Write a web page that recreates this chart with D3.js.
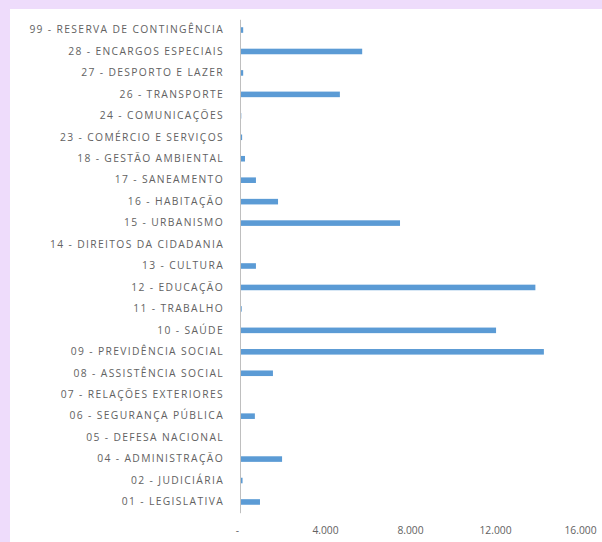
<!DOCTYPE html>
<html>
<head>
<meta charset="utf-8">
<script src="https://cdn.jsdelivr.net/npm/d3@7/dist/d3.min.js"></script>
<style>
html, body { margin: 0; padding: 0; background: #eedcfb; }
svg { display: block; }
</style>
</head>
<body>
<script>
const categories = [
  "99 - RESERVA DE CONTINGÊNCIA",
  "28 - ENCARGOS ESPECIAIS",
  "27 - DESPORTO E LAZER",
  "26 - TRANSPORTE",
  "24 - COMUNICAÇÕES",
  "23 - COMÉRCIO E SERVIÇOS",
  "18 - GESTÃO AMBIENTAL",
  "17 - SANEAMENTO",
  "16 - HABITAÇÃO",
  "15 - URBANISMO",
  "14 - DIREITOS DA CIDADANIA",
  "13 - CULTURA",
  "12 - EDUCAÇÃO",
  "11 - TRABALHO",
  "10 - SAÚDE",
  "09 - PREVIDÊNCIA SOCIAL",
  "08 - ASSISTÊNCIA SOCIAL",
  "07 - RELAÇÕES EXTERIORES",
  "06 - SEGURANÇA PÚBLICA",
  "05 - DEFESA NACIONAL",
  "04 - ADMINISTRAÇÃO",
  "02 - JUDICIÁRIA",
  "01 - LEGISLATIVA"
];
const values = [150, 5750, 150, 4700, 60, 100, 235, 750, 1790, 7530, 30, 750, 13900, 80, 12050, 14300, 1550, 0, 700, 0, 1980, 120, 940];
const tickValues = [0, 4000, 8000, 12000, 16000];
const tickLabels = ["-", "4.000", "8.000", "12.000", "16.000"];

const W = 602, H = 542;
const svg = d3.select("body").append("svg").attr("width", W).attr("height", H);
svg.append("rect").attr("x", 10).attr("y", 9).attr("width", W - 10).attr("height", H - 9).attr("fill", "#ffffff");

const x = d3.scaleLinear().domain([0, 16000]).range([240, 580]);
const y = d3.scaleBand().domain(categories).range([19.3, 512.7]).paddingInner(0.74).paddingOuter(0.37);

const font = "'Open Sans', 'Liberation Sans', sans-serif";

// bars
svg.append("g").selectAll("rect").data(values).join("rect")
  .attr("x", x(0))
  .attr("y", (d, i) => y(categories[i]))
  .attr("width", d => Math.max(0, x(d) - x(0)))
  .attr("height", y.bandwidth())
  .attr("fill", "#5b9bd5");

// y axis
const yAxis = d3.axisLeft(y).tickSize(0).tickPadding(16);
const gy = svg.append("g").attr("transform", `translate(${x(0)},0)`).call(yAxis);
gy.select(".domain").attr("stroke", "#bfbfbf").attr("stroke-width", 1);
gy.selectAll("text").attr("font-family", font).attr("font-size", 10.3).attr("fill", "#626262")
  .attr("letter-spacing", "1.35px");

// x axis labels
const xAxis = d3.axisBottom(x).tickValues(tickValues).tickSize(0).tickPadding(0)
  .tickFormat((d, i) => tickLabels[i]);
const gx = svg.append("g").attr("transform", `translate(0,527)`).call(xAxis);
gx.select(".domain").remove();
gx.selectAll("text").attr("font-family", font).attr("font-size", 10.3).attr("fill", "#626262")
  .attr("dx", (d, i) => i === 0 ? -3 : 0);
</script>
</body>
</html>
